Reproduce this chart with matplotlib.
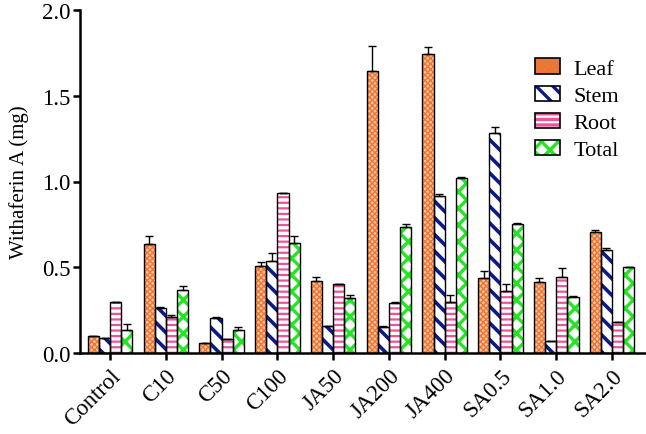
import numpy as np
import matplotlib
matplotlib.use("Agg")
import matplotlib.pyplot as plt
from matplotlib.patches import Patch
from matplotlib.legend_handler import HandlerTuple

plt.rcParams["font.family"] = ["Liberation Serif", "DejaVu Serif"]
plt.rcParams["hatch.linewidth"] = 2.0

# ── data ────────────────────────────────────────────────────────────────────
groups = ["Control", "C10", "C50", "C100", "JA50", "JA200", "JA400", "SA0.5", "SA1.0", "SA2.0"]
leaf      = [0.10, 0.635, 0.06, 0.51, 0.42, 1.645, 1.745, 0.44, 0.415, 0.705]
leaf_err  = [0.00, 0.045, 0.00, 0.02, 0.025, 0.145, 0.04, 0.04, 0.02, 0.015]
stem      = [0.09, 0.26, 0.205, 0.535, 0.16, 0.15, 0.915, 1.28, 0.07, 0.60]
stem_err  = [0.00, 0.01, 0.005, 0.05, 0.00, 0.005, 0.015, 0.04, 0.00, 0.01]
root      = [0.295, 0.21, 0.08, 0.935, 0.40, 0.29, 0.30, 0.36, 0.445, 0.18]
root_err  = [0.005, 0.01, 0.00, 0.00, 0.00, 0.005, 0.04, 0.04, 0.05, 0.00]
total     = [0.135, 0.37, 0.135, 0.64, 0.32, 0.735, 1.02, 0.75, 0.325, 0.50]
total_err = [0.035, 0.02, 0.015, 0.04, 0.02, 0.015, 0.005, 0.01, 0.005, 0.00]

# name, values, errors, hatch colour, face, hatch, hatch width
series = [
    ("Leaf",  leaf,  leaf_err,  "#ec7634", "#f9c29a", "xxxxxx", 1.0),
    ("Stem",  stem,  stem_err,  "#0a1a8c", "white",   "\\\\",   2.6),
    ("Root",  root,  root_err,  "#e8559a", "white",   "---",    1.6),
    ("Total", total, total_err, "#22e622", "white",   "xx",     2.4),
]

x = np.arange(len(groups))
w = 0.2

fig = plt.figure(figsize=(6.46, 4.35), dpi=100)
ax = fig.add_axes([80 / 646, 81 / 435, 566 / 646, 343 / 435])

leg_handles = []
for i, (name, vals, err, col, face, hatch, hlw) in enumerate(series):
    pos = x + (i - 1.5) * w
    plt.rcParams["hatch.linewidth"] = hlw
    # hatch layer (coloured), then black outline on top
    ax.bar(pos, vals, w, color=face, edgecolor=col, hatch=hatch, linewidth=0, zorder=2)
    ax.bar(pos, vals, w, fill=False, edgecolor="black", linewidth=1.0, zorder=3)
    ax.errorbar(pos, vals, yerr=[np.zeros(len(err)), err], fmt="none",
                ecolor="black", elinewidth=1.0, capsize=3, capthick=1.0, zorder=4)
    leg_handles.append((Patch(facecolor=face, edgecolor=col, hatch=hatch, linewidth=0),
                        Patch(fill=False, edgecolor="black", linewidth=1.2)))

ax.set_xlim(-0.54, 9.61)
ax.set_ylim(0, 2.0)
ax.set_yticks([0, 0.5, 1.0, 1.5, 2.0])
ax.set_yticklabels(["0.0", "0.5", "1.0", "1.5", "2.0"])
ax.set_xticks(x)
ax.set_xticklabels(groups, rotation=45, ha="right", rotation_mode="anchor")
ax.tick_params(axis="both", direction="out", length=5, width=1.8, labelsize=16.5)
ax.tick_params(axis="y", pad=2)
ax.set_ylabel("Withaferin A (mg)", fontsize=15, labelpad=9)

for s in ("top", "right"):
    ax.spines[s].set_visible(False)
for s in ("left", "bottom"):
    ax.spines[s].set_linewidth(1.8)

ax.legend(leg_handles, [s[0] for s in series], loc="upper left",
          bbox_to_anchor=(0.768, 0.917), frameon=False, fontsize=16,
          handler_map={tuple: HandlerTuple(ndivide=1, pad=0)},
          handlelength=1.12, handleheight=0.68, labelspacing=0.3, handletextpad=0.63)

fig.savefig("out.png", dpi=100)
